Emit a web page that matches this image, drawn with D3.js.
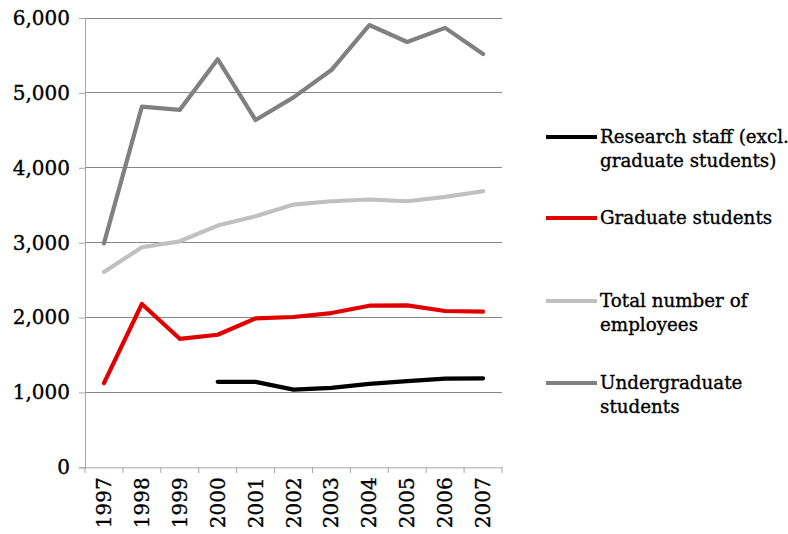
<!DOCTYPE html>
<html><head><meta charset="utf-8">
<script src="https://cdn.jsdelivr.net/npm/d3@7"></script>
<style>body{margin:0;background:#fff}svg text{font-family:"DejaVu Serif",serif;fill:#000;stroke:#000;stroke-width:0.35px}</style>
</head><body><svg id="c" width="788" height="534"></svg>
<script>
const years = ["1997","1998","1999","2000","2001","2002","2003","2004","2005","2006","2007"];
const researchStaff = [null,null,null,1141,1141,1038,1061,1114,1150,1185,1188];
const graduate = [1124,2181,1716,1770,1988,2007,2060,2158,2162,2087,2078];
const totalEmployees = [2609,2938,3018,3228,3353,3509,3553,3576,3553,3612,3687];
const undergraduate = [2990,4817,4773,5450,4637,4940,5305,5906,5680,5868,5520];
const yTicks = [0,1000,2000,3000,4000,5000,6000];
const seriesNames = [["Research staff (excl.","graduate students)"],["Graduate students"],["Total number of","employees"],["Undergraduate","students"]];
const seriesColors = ["#000000","#e00000","#c0c0c0","#808080"];
const seriesData = [researchStaff, graduate, totalEmployees, undergraduate];

const svg = d3.select("#c");
const x = d3.scaleBand().domain(years).range([85, 502]);
const y = d3.scaleLinear().domain([0,6000]).range([467.3, 18]);

// gridlines
svg.append("g").selectAll("line").data(yTicks.filter(d=>d>0)).join("line")
  .attr("x1",85).attr("x2",502).attr("y1",d=>y(d)).attr("y2",d=>y(d))
  .attr("stroke","#868686").attr("stroke-width",1).attr("shape-rendering","crispEdges");

// y axis
const ya = svg.append("g").attr("transform","translate(85,0)")
  .call(d3.axisLeft(y).tickValues(yTicks).tickSize(6).tickPadding(9).tickFormat(d3.format(",")));
ya.select(".domain").attr("stroke","#a6a6a6");
ya.selectAll(".tick line").attr("stroke","#a6a6a6");
ya.selectAll("text").style("font-size","20px").style("font-family","DejaVu Serif");

// x axis
const xa = svg.append("g").attr("transform","translate(0,467.3)")
  .call(d3.axisBottom(x).tickSize(0).tickPadding(0));
xa.select(".domain").attr("stroke","#a6a6a6");
xa.selectAll(".tick text").attr("transform","rotate(-90)").attr("text-anchor","end")
  .attr("x",-10).attr("y",0).attr("dy","0.35em").style("font-size","20px").style("font-family","DejaVu Serif");
svg.append("g").selectAll("line").data(years.concat(["end"])).join("line")
  .attr("x1",(d,i)=>85+i*x.step()).attr("x2",(d,i)=>85+i*x.step())
  .attr("y1",467.3).attr("y2",473).attr("stroke","#a6a6a6");

// lines
const line = d3.line().defined(d=>d!=null).x((d,i)=>x(years[i])+x.bandwidth()/2).y(d=>y(d));
seriesData.forEach((s,i)=>{
  svg.append("path").datum(s).attr("d",line).attr("fill","none")
    .attr("stroke",seriesColors[i]).attr("stroke-width",4.2)
    .attr("stroke-linejoin","round").attr("stroke-linecap","round");
});

// legend
const legY = [137,218,301,383];
seriesNames.forEach((nm,i)=>{
  const g = svg.append("g").attr("transform",`translate(0,${legY[i]})`);
  g.append("line").attr("x1",546).attr("x2",597).attr("y1",0).attr("y2",0)
    .attr("stroke",seriesColors[i]).attr("stroke-width",4);
  nm.forEach((t,j)=>{
    g.append("text").attr("x",600).attr("y",j*24).attr("dy","0.35em")
      .style("font-size","18.3px").text(t);
  });
});
</script></body></html>
